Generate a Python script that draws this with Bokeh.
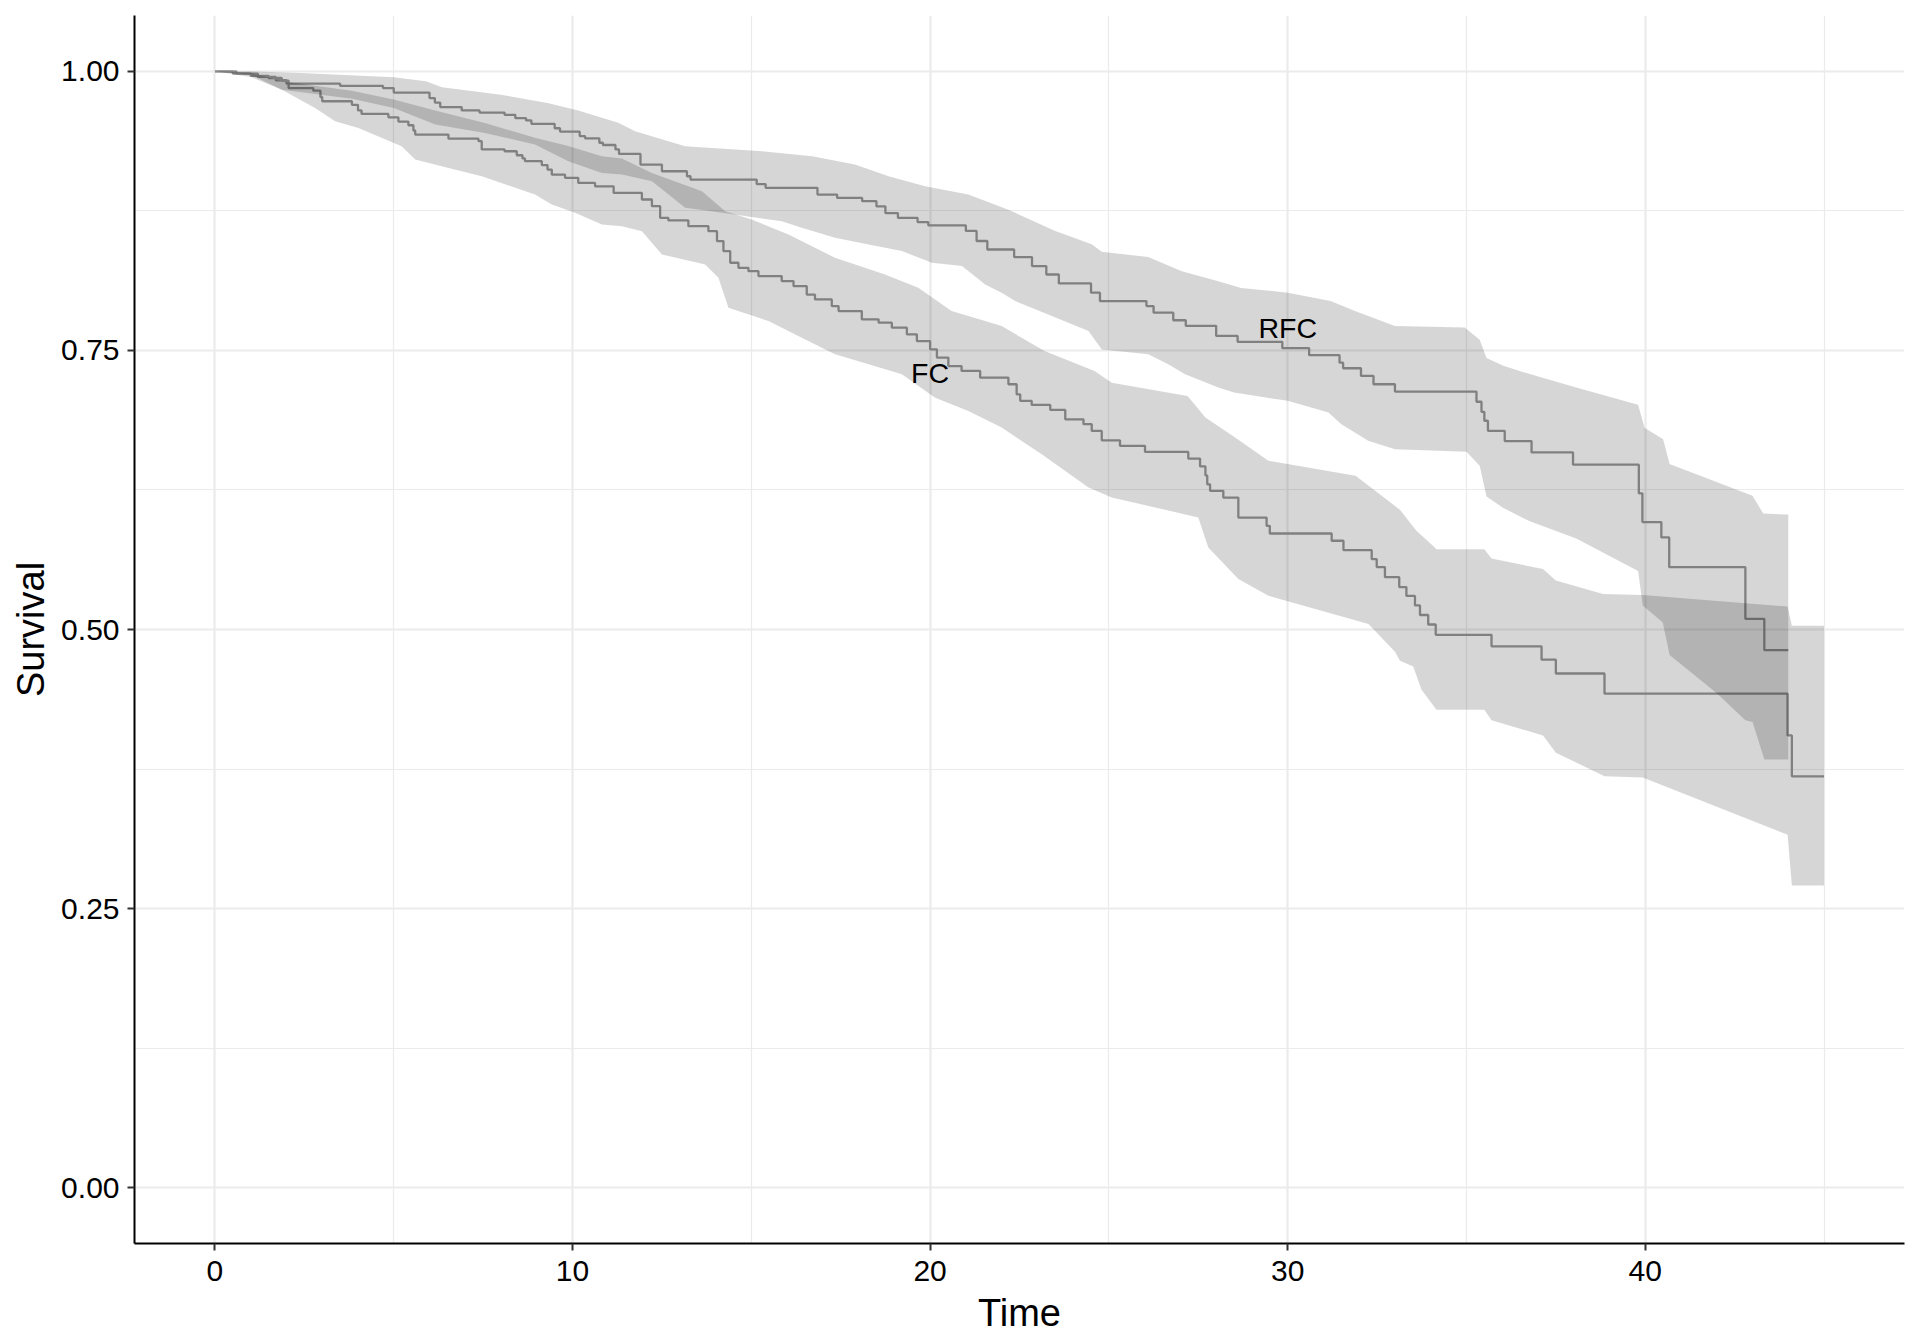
from bokeh.plotting import figure
from bokeh.models import Range1d, FixedTicker, NumeralTickFormatter, Label
from bokeh.embed import file_html
from bokeh.resources import INLINE

# ---- Kaplan-Meier step curves (time of drop, survival after drop) ----
rfc_time = [0, 0.6, 1.2, 1.7, 2.0, 3.5, 4.7, 5.0, 6.0, 6.15, 6.3, 6.9, 7.4, 8.1, 8.4, 8.7, 8.85,
            9.5, 9.65, 10.2, 10.35, 10.75, 10.85, 11.2, 11.3, 11.9, 12.5, 13.2, 13.3, 15.15, 15.4,
            16.85, 17.4, 18.1, 18.5, 18.75, 19.1, 19.65, 19.95, 21.0, 21.3, 21.6, 22.35, 22.85,
            23.25, 23.6, 24.5, 24.75, 26.05, 26.25, 26.8, 27.15, 28.0, 28.6, 29.85, 30.6, 31.45,
            31.55, 32.05, 32.4, 33.0, 35.28, 35.42, 35.5, 35.6, 36.07, 36.82, 37.98, 39.82, 39.92,
            40.45, 40.67, 42.8, 43.33, 44.0]
rfc_surv = [1.0, 0.998, 0.995, 0.992, 0.989, 0.987, 0.985, 0.981, 0.976, 0.972, 0.968, 0.965, 0.963,
            0.961, 0.958, 0.956, 0.953, 0.949, 0.946, 0.942, 0.940, 0.936, 0.934, 0.930, 0.926,
            0.9165, 0.9105, 0.906, 0.903, 0.899, 0.8956, 0.8896, 0.8866, 0.8837, 0.879, 0.873,
            0.8688, 0.865, 0.862, 0.857, 0.848, 0.8404, 0.8336, 0.8255, 0.818, 0.81, 0.8017,
            0.7942, 0.7897, 0.7838, 0.777, 0.772, 0.763, 0.7577, 0.752, 0.7457, 0.739, 0.734,
            0.7271, 0.7197, 0.7131, 0.704, 0.695, 0.687, 0.678, 0.6688, 0.6586, 0.6476, 0.622,
            0.5962, 0.5825, 0.5558, 0.5096, 0.4815, 0.4815]

fc_time = [0, 0.5, 1.0, 1.5, 1.87, 2.06, 2.75, 2.95, 3.0, 3.83, 4.0, 4.1, 4.85, 5.13, 5.41, 5.55,
           5.6, 6.53, 7.37, 7.46, 8.1, 8.44, 8.6, 8.67, 9.14, 9.3, 9.42, 9.79, 10.16, 10.63, 11.15,
           11.94, 12.22, 12.45, 12.68, 13.24, 13.8, 14.04, 14.22, 14.41, 14.64, 14.92, 15.2, 15.85,
           16.18, 16.55, 16.78, 17.25, 17.44, 18.09, 18.56, 18.93, 19.35, 19.63, 20.0, 20.19,
           20.51, 20.88, 21.4, 22.19, 22.42, 22.52, 22.84, 23.36, 23.78, 24.29, 24.52, 24.8,
           25.31, 26.01, 27.22, 27.55, 27.7, 27.75, 27.83, 28.2, 28.62, 29.41, 29.5, 31.23,
           31.56, 32.35, 32.49, 32.72, 33.12, 33.32, 33.56, 33.7, 33.93, 34.14, 35.7, 37.1,
           37.5, 38.86, 43.98, 44.1, 45.0]
fc_surv = [1.0, 0.998, 0.996, 0.994, 0.9917, 0.985, 0.9827, 0.977, 0.9732, 0.970, 0.965, 0.9618,
           0.9588, 0.955, 0.9517, 0.947, 0.9433, 0.9397, 0.9374, 0.930, 0.9284, 0.9248, 0.922,
           0.9195, 0.916, 0.912, 0.9075, 0.9046, 0.900, 0.897, 0.8911, 0.8852, 0.8792, 0.8688,
           0.8664, 0.8613, 0.8568, 0.8479, 0.839, 0.8285, 0.824, 0.821, 0.8166, 0.8121, 0.8076,
           0.800, 0.7957, 0.7897, 0.7852, 0.7778, 0.7748, 0.7704, 0.7644, 0.7584, 0.751, 0.7436,
           0.736, 0.7316, 0.7256, 0.7197, 0.7107, 0.7048, 0.7012, 0.6967, 0.6883, 0.6839, 0.6779,
           0.6695, 0.6645, 0.6591, 0.6531, 0.6461, 0.638, 0.630, 0.6242, 0.6182, 0.6003, 0.5929,
           0.586, 0.5795, 0.5711, 0.5631, 0.5559, 0.5469, 0.538, 0.5301, 0.5216, 0.513, 0.5045,
           0.4952, 0.4849, 0.473, 0.4606, 0.4425, 0.4051, 0.3685, 0.3685]

# ---- confidence bands ----
rfc_up_t = [0, 1.0, 2.4, 5.0, 5.9, 6.35, 8.0, 9.3, 10.16, 11.28, 11.75, 13.15, 15.3, 16.7, 17.9,
            18.84, 19.86, 21.07, 22.19, 23.5, 24.52, 24.8, 26.1, 27.04, 28.06, 28.7, 30.0, 31.2,
            31.9, 33.0, 34.95, 35.37, 35.56, 36.03, 36.77, 38.07, 39.8, 39.98, 40.5, 40.68, 43.0,
            43.3, 44.0]
rfc_up = [1.0, 1.0, 0.9985, 0.9946, 0.991, 0.9857, 0.979, 0.9717, 0.965, 0.954, 0.9463, 0.9329,
          0.9284, 0.924, 0.9165, 0.906, 0.897, 0.8897, 0.876, 0.857, 0.845, 0.8384, 0.8336, 0.821,
          0.812, 0.806, 0.8017, 0.7942, 0.785, 0.7718, 0.7705, 0.7596, 0.7432, 0.7363, 0.7288,
          0.7168, 0.7014, 0.6808, 0.6705, 0.6483, 0.6199, 0.6038, 0.603]
rfc_lo_t = [0, 1.0, 1.87, 3.83, 5.0, 6.16, 7.55, 8.95, 9.88, 10.82, 11.38, 12.22, 13.15, 14.18,
            15.01, 15.85, 16.41, 17.34, 18.28, 19.21, 20.05, 20.89, 21.54, 22.0, 22.38, 22.94,
            24.43, 24.8, 26.1, 26.66, 27.13, 28.06, 28.5, 30.0, 31.14, 31.5, 32.25, 33.0, 35.0,
            35.37, 35.56, 36.03, 36.77, 38.07, 39.8, 39.93, 40.49, 40.68, 42.0, 42.8, 43.0, 43.33,
            44.0]
rfc_lo = [1.0, 0.997, 0.9836, 0.9755, 0.9672, 0.9523, 0.9448, 0.9344, 0.9195, 0.909, 0.9075,
          0.9016, 0.8777, 0.8732, 0.8694, 0.8658, 0.8598, 0.8509, 0.8449, 0.839, 0.8285, 0.8255,
          0.8091, 0.8016, 0.7942, 0.7868, 0.7674, 0.7508, 0.7465, 0.7375, 0.7286, 0.7167, 0.7122,
          0.7048, 0.6943, 0.6838, 0.669, 0.6614, 0.6592, 0.6466, 0.6192, 0.6089, 0.5969, 0.5815,
          0.5524, 0.5216, 0.5062, 0.4771, 0.4428, 0.4188, 0.4171, 0.3836, 0.3836]

fc_up_t = [0, 1.0, 1.87, 3.83, 5.0, 6.16, 7.55, 8.95, 9.88, 10.82, 11.38, 12.22, 13.62, 14.27,
           15.01, 16.04, 17.34, 18.74, 19.67, 20.6, 21.54, 22.0, 23.2, 24.6, 25.08, 27.2, 27.7,
           28.53, 29.46, 31.9, 33.14, 33.6, 34.07, 34.16, 35.5, 35.7, 37.14, 37.5, 38.82, 39.93,
           43.98, 44.1, 45.0]
fc_up = [1.0, 0.999, 0.991, 0.9827, 0.9747, 0.9648, 0.9538, 0.9404, 0.933, 0.924, 0.922, 0.909,
         0.8926, 0.8747, 0.8673, 0.8539, 0.833, 0.8181, 0.8062, 0.7852, 0.7763, 0.7718, 0.7495,
         0.7316, 0.7211, 0.7092, 0.6898, 0.672, 0.6511, 0.6378, 0.6072, 0.5884, 0.5747, 0.5719,
         0.5719, 0.5637, 0.5541, 0.5438, 0.5318, 0.5308, 0.5205, 0.5034, 0.5034]
fc_lo_t = [0, 1.0, 1.87, 2.8, 3.36, 4.01, 5.22, 5.6, 6.53, 7.46, 8.95, 9.42, 10.07, 10.82, 11.38,
           11.94, 12.5, 13.71, 14.08, 14.36, 15.48, 16.41, 17.34, 18.28, 19.21, 20.14, 21.07,
           22.0, 23.12, 24.43, 25.08, 27.5, 27.78, 28.62, 29.46, 32.26, 33.0, 33.14, 33.51,
           33.74, 34.16, 35.5, 35.7, 37.14, 37.5, 38.86, 39.93, 43.98, 44.1, 45.0]
fc_lo = [1.0, 0.995, 0.9836, 0.9672, 0.9553, 0.9493, 0.9329, 0.921, 0.9135, 0.906, 0.8896, 0.8807,
         0.8732, 0.8628, 0.8613, 0.8568, 0.836, 0.827, 0.8151, 0.7882, 0.7763, 0.7614, 0.7465,
         0.7375, 0.7286, 0.7077, 0.6958, 0.6809, 0.657, 0.6272, 0.6183, 0.6004, 0.5735, 0.5452,
         0.5303, 0.5049, 0.48, 0.4719, 0.4668, 0.4462, 0.4281, 0.4281, 0.4188, 0.4051, 0.3897,
         0.3685, 0.3675, 0.3161, 0.2706, 0.2706]

# ---- labels & ticks ----
curve_labels = ["FC", "RFC"]
label_x = [20, 30]
label_y = [0.7298, 0.7698]
x_ticks = [0, 10, 20, 30, 40]
x_minor = [5, 15, 25, 35, 45]
y_ticks = [0, 0.25, 0.5, 0.75, 1.0]
y_minor = [0.125, 0.375, 0.625, 0.875]

FONT = "Liberation Sans"

p = figure(width=1920, height=1344, output_backend="svg", toolbar_location=None,
           x_range=Range1d(-2.25, 47.25), y_range=Range1d(-0.05, 1.05),
           min_border_left=134, min_border_right=16, min_border_top=15, min_border_bottom=101)
p.outline_line_color = None
p.background_fill_color = "white"
p.border_fill_color = "white"

xt = FixedTicker(ticks=x_ticks, minor_ticks=x_minor)
yt = FixedTicker(ticks=y_ticks, minor_ticks=y_minor)
p.xaxis.ticker = xt
p.yaxis.ticker = yt
p.xgrid.ticker = xt
p.ygrid.ticker = yt
p.yaxis.formatter = NumeralTickFormatter(format="0.00")

for g in (p.xgrid, p.ygrid):
    g.grid_line_color = "#EBEBEB"
    g.grid_line_width = 2.2
    g.minor_grid_line_color = "#EBEBEB"
    g.minor_grid_line_width = 1.2

for ax in (p.xaxis, p.yaxis):
    ax.axis_line_color = "black"
    ax.axis_line_width = 2
    ax.major_tick_line_color = "#333333"
    ax.major_tick_line_width = 2
    ax.major_tick_out = 7
    ax.major_tick_in = 0
    ax.minor_tick_line_color = None
    ax.major_label_text_font = FONT
    ax.major_label_text_font_size = "30px"
    ax.major_label_text_color = "black"
    ax.axis_label_text_font = FONT
    ax.axis_label_text_font_size = "38px"
    ax.axis_label_text_font_style = "normal"
    ax.axis_label_text_color = "black"

p.xaxis.axis_label = "Time"
p.yaxis.axis_label = "Survival"
p.xaxis.major_label_standoff = 10
p.yaxis.major_label_standoff = 8
p.xaxis.axis_label_standoff = 8
p.yaxis.axis_label_standoff = 6

# step curves (under the bands)
p.step(rfc_time, rfc_surv, mode="after", line_color="#999999", line_width=2.3)
p.step(fc_time, fc_surv, mode="after", line_color="#999999", line_width=2.3)

# bands as polygons
for ut, uy, lt, ly in ((rfc_up_t, rfc_up, rfc_lo_t, rfc_lo), (fc_up_t, fc_up, fc_lo_t, fc_lo)):
    px = list(ut) + list(reversed(lt))
    py = list(uy) + list(reversed(ly))
    p.patch(px, py, fill_color="black", fill_alpha=0.16, line_color=None)

for txt, lx, ly in zip(curve_labels, label_x, label_y):
    p.add_layout(Label(x=lx, y=ly, text=txt, text_align="center", text_baseline="middle",
                       text_font=FONT, text_font_size="28.5px", text_color="black"))

open("out.html", "w").write(file_html(p, INLINE))
